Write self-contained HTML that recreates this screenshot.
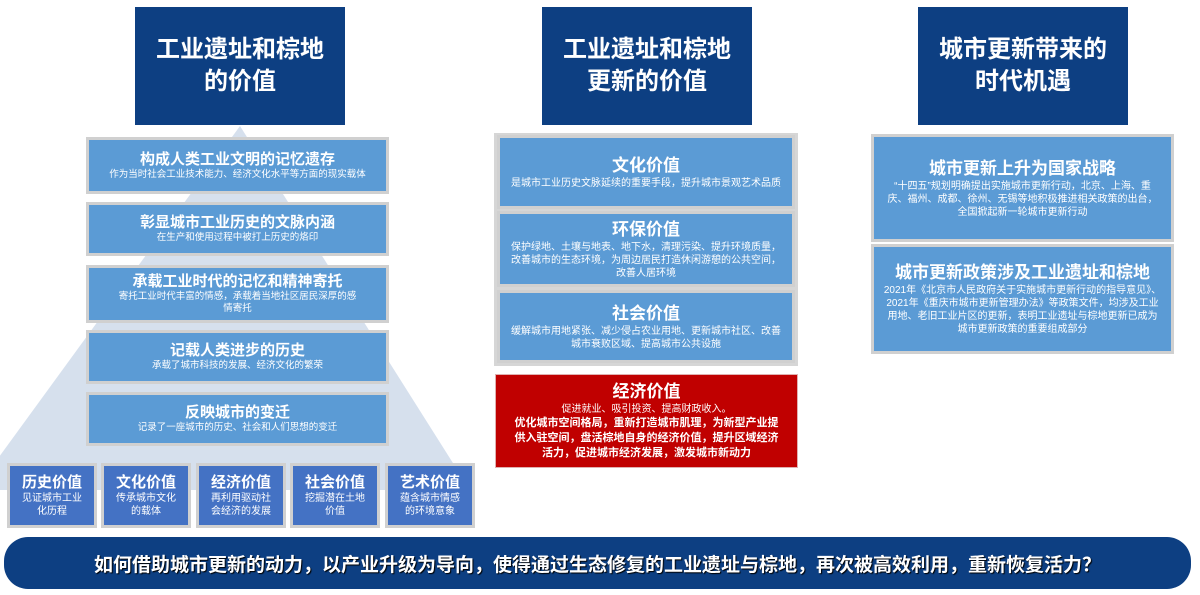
<!DOCTYPE html>
<html><head><meta charset="utf-8"><style>
*{margin:0;padding:0;box-sizing:border-box}
body{width:1200px;height:595px;background:#fff;position:relative;overflow:hidden;font-family:"Liberation Sans","Noto Sans CJK SC",sans-serif;color:#fff}
.a{position:absolute}
.hd{background:#0d3f82;display:flex;align-items:center;justify-content:center;text-align:center;font-size:24px;font-weight:bold;line-height:32px}
.bx{position:absolute;background:#5b9bd5;border:3px solid #d0d0d0;text-align:center;display:flex;flex-direction:column;justify-content:center;align-items:center}
.bx b{font-size:15px;line-height:18px}
.bx span{font-size:9.5px;line-height:12px}
.sm{background:#4472c4}
.sm b{font-size:15px}
.sm span{font-size:10px;line-height:13px}
.mid b{font-size:17px;line-height:22px}
.mid span{font-size:10px;line-height:13px}
</style></head><body>
<div class="a hd" style="left:135px;top:7px;width:210px;height:118px">工业遗址和棕地<br>的价值</div>
<div class="a hd" style="left:542px;top:7px;width:210px;height:118px">工业遗址和棕地<br>更新的价值</div>
<div class="a hd" style="left:918px;top:7px;width:210px;height:118px">城市更新带来的<br>时代机遇</div>
<svg class="a" style="left:0;top:0" width="1200" height="595"><polygon points="240,126 -25,490 470,490" fill="#d6e0ed"/></svg>
<div class="bx" style="left:86px;top:137px;width:303px;height:57px"><b>构成人类工业文明的记忆遗存</b><span>作为当时社会工业技术能力、经济文化水平等方面的现实载体</span></div>
<div class="bx" style="left:86px;top:202px;width:303px;height:54px"><b>彰显城市工业历史的文脉内涵</b><span>在生产和使用过程中被打上历史的烙印</span></div>
<div class="bx" style="left:86px;top:265px;width:303px;height:58px"><b>承载工业时代的记忆和精神寄托</b><span>寄托工业时代丰富的情感，承载着当地社区居民深厚的感<br>情寄托</span></div>
<div class="bx" style="left:86px;top:330px;width:303px;height:54px"><b>记载人类进步的历史</b><span>承载了城市科技的发展、经济文化的繁荣</span></div>
<div class="bx" style="left:86px;top:392px;width:303px;height:54px"><b>反映城市的变迁</b><span>记录了一座城市的历史、社会和人们思想的变迁</span></div>
<div class="bx sm" style="left:7px;top:463px;width:90px;height:65px"><b>历史价值</b><span>见证城市工业<br>化历程</span></div>
<div class="bx sm" style="left:101px;top:463px;width:90px;height:65px"><b>文化价值</b><span>传承城市文化<br>的载体</span></div>
<div class="bx sm" style="left:196px;top:463px;width:90px;height:65px"><b>经济价值</b><span>再利用驱动社<br>会经济的发展</span></div>
<div class="bx sm" style="left:290px;top:463px;width:90px;height:65px"><b>社会价值</b><span>挖掘潜在土地<br>价值</span></div>
<div class="bx sm" style="left:385px;top:463px;width:90px;height:65px"><b>艺术价值</b><span>蕴含城市情感<br>的环境意象</span></div>
<div class="a" style="left:494px;top:133px;width:304px;height:233px;background:#d6d6d6"></div>
<div class="bx mid" style="left:497px;top:135px;width:298px;height:74px"><b>文化价值</b><span>是城市工业历史文脉延续的重要手段，提升城市景观艺术品质</span></div>
<div class="bx mid" style="left:497px;top:211px;width:298px;height:76px"><b>环保价值</b><span>保护绿地、土壤与地表、地下水，清理污染、提升环境质量，<br>改善城市的生态环境，为周边居民打造休闲游憩的公共空间，<br>改善人居环境</span></div>
<div class="bx mid" style="left:497px;top:290px;width:298px;height:73px"><b>社会价值</b><span>缓解城市用地紧张、减少侵占农业用地、更新城市社区、改善<br>城市衰败区域、提高城市公共设施</span></div>
<div class="bx mid" style="left:495px;top:374px;width:303px;height:94px;background:#c00000;border:1px solid #e0b0b0"><b>经济价值</b><span>促进就业、吸引投资、提高财政收入。</span><span style="font-weight:bold;font-size:11px;line-height:15px">优化城市空间格局，重新打造城市肌理，为新型产业提<br>供入驻空间，盘活棕地自身的经济价值，提升区域经济<br>活力，促进城市经济发展，激发城市新动力</span></div>
<div class="bx mid" style="left:871px;top:134px;width:303px;height:108px"><b>城市更新上升为国家战略</b><span>“十四五”规划明确提出实施城市更新行动，北京、上海、重<br>庆、福州、成都、徐州、无锡等地积极推进相关政策的出台，<br>全国掀起新一轮城市更新行动</span></div>
<div class="bx mid" style="left:871px;top:244px;width:303px;height:110px"><b>城市更新政策涉及工业遗址和棕地</b><span>2021年《北京市人民政府关于实施城市更新行动的指导意见》、<br>2021年《重庆市城市更新管理办法》等政策文件，均涉及工业<br>用地、老旧工业片区的更新，表明工业遗址与棕地更新已成为<br>城市更新政策的重要组成部分</span></div>
<div class="a" style="left:4px;top:537px;width:1187px;height:52px;background:#0d3f82;border-radius:24px;display:flex;align-items:center;justify-content:center;font-size:19px;font-weight:bold;text-shadow:1px 1px 1px #000">如何借助城市更新的动力，以产业升级为导向，使得通过生态修复的工业遗址与棕地，再次被高效利用，重新恢复活力？</div>
</body></html>
